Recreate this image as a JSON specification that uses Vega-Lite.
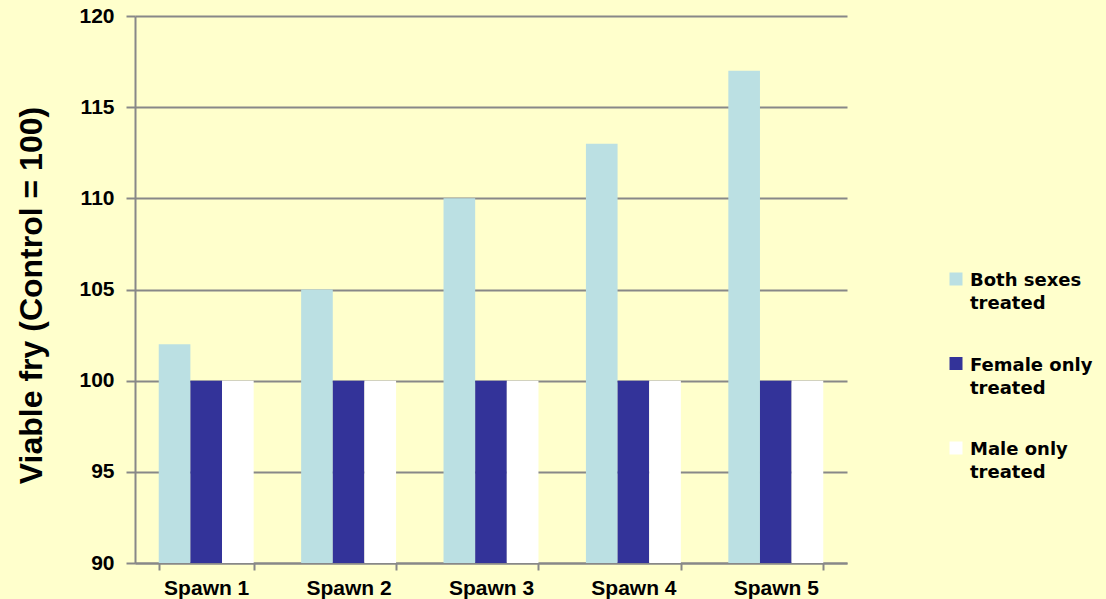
{
  "$schema": "https://vega.github.io/schema/vega-lite/v6.json",
  "width": 712,
  "height": 547,
  "autosize": {"type": "none"},
  "padding": {"left": 135, "top": 16, "right": 259, "bottom": 36},
  "background": "#FFFFCC",
  "config": {"view": {"stroke": null}, "font": "Liberation Sans"},
  "data": {
    "values": [
      {"spawn": "Spawn 1", "group": "Both sexes treated", "value": 102},
      {"spawn": "Spawn 1", "group": "Female only treated", "value": 100},
      {"spawn": "Spawn 1", "group": "Male only treated", "value": 100},
      {"spawn": "Spawn 2", "group": "Both sexes treated", "value": 105},
      {"spawn": "Spawn 2", "group": "Female only treated", "value": 100},
      {"spawn": "Spawn 2", "group": "Male only treated", "value": 100},
      {"spawn": "Spawn 3", "group": "Both sexes treated", "value": 110},
      {"spawn": "Spawn 3", "group": "Female only treated", "value": 100},
      {"spawn": "Spawn 3", "group": "Male only treated", "value": 100},
      {"spawn": "Spawn 4", "group": "Both sexes treated", "value": 113},
      {"spawn": "Spawn 4", "group": "Female only treated", "value": 100},
      {"spawn": "Spawn 4", "group": "Male only treated", "value": 100},
      {"spawn": "Spawn 5", "group": "Both sexes treated", "value": 117},
      {"spawn": "Spawn 5", "group": "Female only treated", "value": 100},
      {"spawn": "Spawn 5", "group": "Male only treated", "value": 100}
    ]
  },
  "mark": {"type": "bar", "clip": true},
  "encoding": {
    "x": {
      "field": "spawn",
      "type": "nominal",
      "scale": {"paddingInner": 0.3333, "paddingOuter": 0.1667},
      "axis": {
        "title": null,
        "labelAngle": 0,
        "tickBand": "extent",
        "domainColor": "#888888",
        "domainWidth": 2,
        "tickColor": "#888888",
        "tickWidth": 2,
        "tickSize": 7,
        "labelFont": "Liberation Sans",
        "labelFontWeight": "bold",
        "labelFontSize": 21,
        "labelColor": "#000000",
        "labelPadding": 7
      }
    },
    "xOffset": {"field": "group", "type": "nominal", "sort": ["Both sexes treated", "Female only treated", "Male only treated"]},
    "y": {
      "field": "value",
      "type": "quantitative",
      "scale": {"domain": [90, 120], "zero": false, "nice": false},
      "axis": {
        "values": [90, 95, 100, 105, 110, 115, 120],
        "grid": true,
        "gridColor": "#888888",
        "gridWidth": 2,
        "domainColor": "#888888",
        "domainWidth": 2,
        "tickColor": "#888888",
        "tickWidth": 2,
        "tickSize": 9,
        "labelFont": "Liberation Sans",
        "labelFontWeight": "bold",
        "labelFontSize": 21,
        "labelColor": "#000000",
        "labelPadding": 12,
        "title": "Viable fry (Control = 100)",
        "titleFont": "Liberation Sans",
        "titleFontSize": 32,
        "titleFontWeight": "bold",
        "titleColor": "#000000",
        "titleAngle": 270,
        "titleAlign": "center",
        "titleBaseline": "middle",
        "titleX": -104,
        "titleY": 279
      }
    },
    "y2": {"datum": 90},
    "color": {
      "field": "group",
      "type": "nominal",
      "scale": {
        "domain": ["Both sexes treated", "Female only treated", "Male only treated"],
        "range": ["#BBE0E3", "#333399", "#FFFFFF"]
      },
      "legend": {
        "orient": "none",
        "legendX": 812,
        "legendY": 254,
        "title": null,
        "symbolType": "square",
        "symbolSize": 169,
        "symbolStrokeWidth": 0,
        "labelFont": "DejaVu Sans",
        "labelFontWeight": "bold",
        "labelFontSize": 18,
        "labelColor": "#000000",
        "labelOffset": 5,
        "labelLimit": 300,
        "labelBaseline": "top",
        "rowPadding": 41.5,
        "labelExpr": "[substring(datum.label, 0, lastindexof(datum.label, ' ')), 'treated']",
        "encode": {"labels": {"update": {"lineHeight": {"value": 23}, "dy": {"value": -7}}}}
      }
    }
  }
}
